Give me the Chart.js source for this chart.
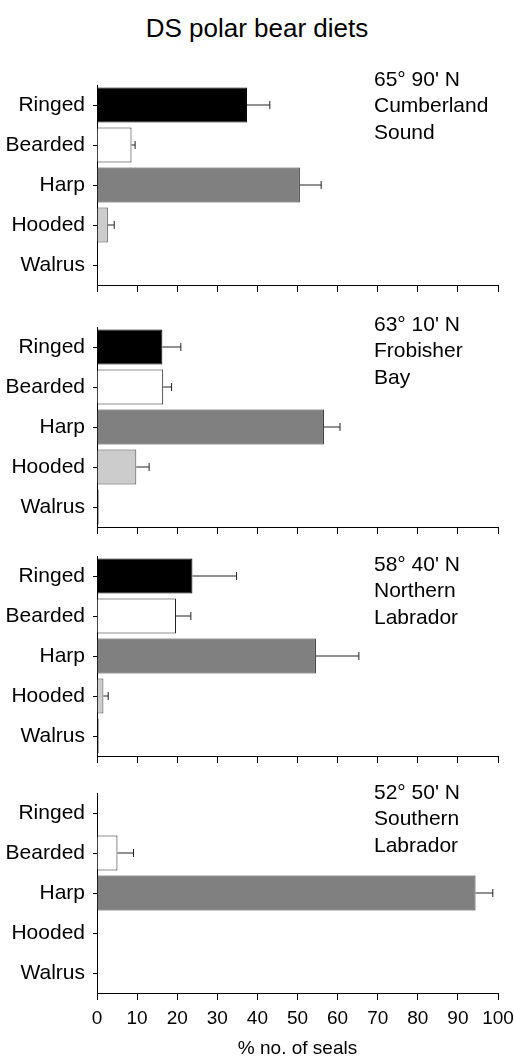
<!DOCTYPE html>
<html>
<head>
<meta charset="utf-8">
<script src="https://cdn.jsdelivr.net/npm/chart.js@4.4.1/dist/chart.umd.min.js"></script>
<style>
  body { margin: 0; background: #fff; width: 514px; height: 1060px; position: relative; overflow: hidden; }
  #title { position: absolute; left: 0; top: 13px; width: 514px; text-align: center;
           font: 26px "Liberation Sans", Arial, sans-serif; color: #000; }
  .panel { position: absolute; left: 0; width: 514px; }
</style>
</head>
<body>
<div id="title">DS polar bear diets</div>
<div class="panel" id="p0"><canvas id="c0"></canvas></div>
<div class="panel" id="p1"><canvas id="c1"></canvas></div>
<div class="panel" id="p2"><canvas id="c2"></canvas></div>
<div class="panel" id="p3"><canvas id="c3"></canvas></div>
<script>
// categorías y valores (% no. of seals)
const categories = ['Ringed', 'Bearded', 'Harp', 'Hooded', 'Walrus'];
const barColors = ['#000000', '#ffffff', '#808080', '#cccccc', '#222222'];

const cumberland = [37.4, 8.6, 50.6, 2.7, 0];
const cumberlandErr = [5.7, 0.9, 5.3, 1.6, 0];
const cumberlandLabel = ['65\u00b0 90\' N', 'Cumberland', 'Sound'];

const frobisher = [16.3, 16.5, 56.6, 9.8, 0.4];
const frobisherErr = [4.6, 2.1, 4.0, 3.2, 0];
const frobisherLabel = ['63\u00b0 10\' N', 'Frobisher', 'Bay'];

const northern = [23.8, 19.7, 54.6, 1.6, 0.4];
const northernErr = [11.0, 3.7, 10.7, 1.2, 0];
const northernLabel = ['58\u00b0 40\' N', 'Northern', 'Labrador'];

const southern = [0, 5.1, 94.4, 0, 0];
const southernErr = [0, 4.0, 4.3, 0, 0];
const southernLabel = ['52\u00b0 50\' N', 'Southern', 'Labrador'];

const xTicks = [0, 10, 20, 30, 40, 50, 60, 70, 80, 90, 100];

const FONT = '"Liberation Sans", Arial, sans-serif';
const PAD_TOP = 20;
const AREA_H = 200;

// posición de cada panel en la página
const panels = [
  { top: 85, values: cumberland, errors: cumberlandErr, label: cumberlandLabel, textY: -5 },
  { top: 327, values: frobisher, errors: frobisherErr, label: frobisherLabel, textY: -2 },
  { top: 556, values: northern, errors: northernErr, label: northernLabel, textY: 9 },
  { top: 793, values: southern, errors: southernErr, label: southernLabel, textY: 0 }
];

// barras de error: línea horizontal con tope vertical
const errorBars = {
  id: 'errorBars',
  afterDatasetsDraw(chart) {
    const errs = chart.options.plugins.errorBars.errors;
    const meta = chart.getDatasetMeta(0);
    const ctx = chart.ctx;
    const xs = chart.scales.x;
    ctx.save();
    ctx.strokeStyle = '#222';
    ctx.lineWidth = 1;
    meta.data.forEach((bar, i) => {
      if (!errs[i]) return;
      const v = chart.data.datasets[0].data[i];
      const x0 = xs.getPixelForValue(v);
      const x1 = xs.getPixelForValue(v + errs[i]);
      ctx.beginPath();
      ctx.moveTo(x0, bar.y);
      ctx.lineTo(x1, bar.y);
      ctx.moveTo(x1, bar.y - 4);
      ctx.lineTo(x1, bar.y + 4);
      ctx.stroke();
    });
    ctx.restore();
  }
};

// texto del lugar arriba a la derecha
const placeText = {
  id: 'placeText',
  afterDraw(chart) {
    const opts = chart.options.plugins.placeText;
    const ctx = chart.ctx;
    ctx.save();
    ctx.font = '21px ' + FONT;
    ctx.fillStyle = '#000';
    ctx.textBaseline = 'middle';
    opts.lines.forEach((t, i) => {
      ctx.fillText(t, 374, chart.chartArea.top + opts.y + i * 26.5);
    });
    ctx.restore();
  }
};

panels.forEach((p, k) => {
  const isLast = k === panels.length - 1;
  const bottom = isLast ? 67 : 8;
  const div = document.getElementById('p' + k);
  div.style.top = (p.top - PAD_TOP) + 'px';
  div.style.height = (PAD_TOP + AREA_H + bottom) + 'px';

  new Chart(document.getElementById('c' + k), {
    type: 'bar',
    data: {
      labels: categories,
      datasets: [{
        data: p.values,
        backgroundColor: barColors,
        borderColor: ['#000', '#222', '#333', '#444', '#000'],
        borderWidth: 1,
        barPercentage: 0.875,
        categoryPercentage: 1
      }]
    },
    options: {
      indexAxis: 'y',
      responsive: true,
      maintainAspectRatio: false,
      animation: false,
      layout: { padding: { top: PAD_TOP, right: 16, left: 0, bottom: 0 } },
      plugins: {
        legend: { display: false },
        tooltip: { enabled: false },
        errorBars: { errors: p.errors },
        placeText: { lines: p.label, y: p.textY }
      },
      scales: {
        x: {
          type: 'linear',
          min: 0,
          max: 100,
          afterBuildTicks: s => { s.ticks = xTicks.map(v => ({ value: v })); },
          afterFit: s => { s.height = bottom; s.paddingLeft = 0; s.paddingRight = 0; },
          ticks: { display: isLast, color: '#000', font: { family: FONT, size: 19 }, padding: 7, maxRotation: 0 },
          grid: { drawOnChartArea: false, drawTicks: true, tickLength: 7, color: '#000' },
          border: { display: true, color: '#000', width: 1 },
          title: {
            display: isLast,
            text: '% no. of seals',
            color: '#000',
            font: { family: FONT, size: 19 },
            padding: { top: 0, bottom: 0 }
          }
        },
        y: {
          afterFit: s => { s.width = 97; s.paddingTop = 0; s.paddingBottom = 0; },
          ticks: { color: '#000', font: { family: FONT, size: 21 }, padding: 8 },
          grid: { offset: false, drawOnChartArea: false, drawTicks: true, tickLength: 4, color: '#000' },
          border: { display: true, color: '#000', width: 1 }
        }
      }
    },
    plugins: [errorBars, placeText]
  });
});
</script>
</body>
</html>
